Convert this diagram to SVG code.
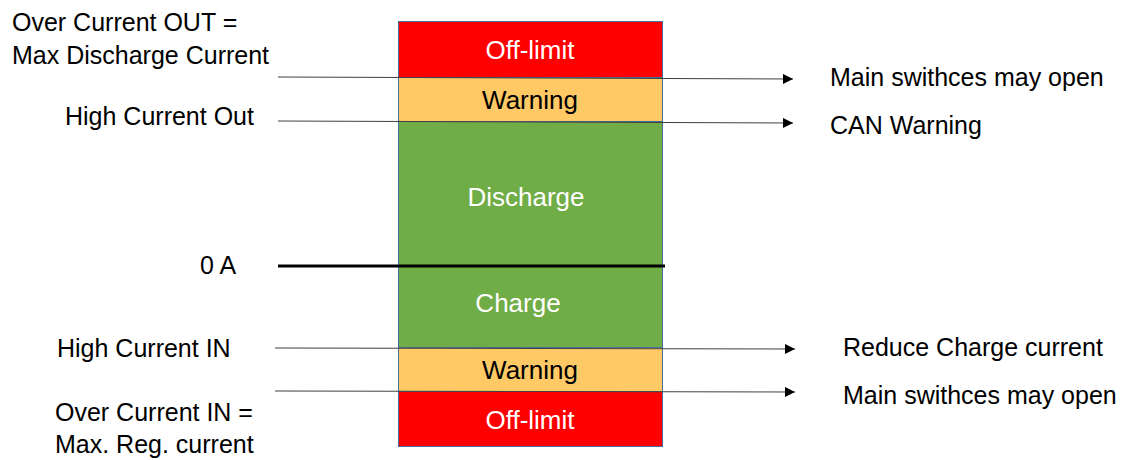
<svg xmlns="http://www.w3.org/2000/svg" width="1133" height="460" viewBox="0 0 1133 460">
  <defs>
    <marker id="arrow" viewBox="0 0 10 10" refX="10" refY="5" markerWidth="10" markerHeight="10" markerUnits="userSpaceOnUse" orient="auto">
      <path d="M0,0 L10,5 L0,10 z" fill="#000"/>
    </marker>
    <style>
      text { font-family: "Liberation Sans", Arial, sans-serif; font-size: 25px; fill: #000; }
      .band { stroke: #41719C; stroke-width: 1; }
      .red { fill: #FF0000; }
      .amber { fill: #FFC966; }
      .green { fill: #70AD47; }
      .light { fill: #fff; }
      .mid { text-anchor: middle; font-size: 26px; }
      .lvl { stroke: #404040; stroke-width: 1; fill: none; }
    </style>
  </defs>
  <rect width="1133" height="460" fill="#fff"/>

  <!-- current bands -->
  <g id="offlimit-top">
    <rect class="band red" x="398.5" y="21.5" width="264" height="56"/>
    <text class="mid light" x="530" y="59">Off-limit</text>
  </g>
  <g id="warning-top">
    <rect class="band amber" x="398.5" y="77.5" width="264" height="44"/>
    <text class="mid" x="530" y="109">Warning</text>
  </g>
  <g id="discharge-charge">
    <rect class="band green" x="398.5" y="121.5" width="264" height="226"/>
    <text class="mid light" x="526" y="206">Discharge</text>
    <text class="mid light" x="518" y="312">Charge</text>
  </g>
  <g id="warning-bottom">
    <rect class="band amber" x="398.5" y="347.5" width="264" height="44"/>
    <text class="mid" x="530" y="379">Warning</text>
  </g>
  <g id="offlimit-bottom">
    <rect class="band red" x="398.5" y="391.5" width="264" height="55"/>
    <text class="mid light" x="530" y="429">Off-limit</text>
  </g>

  <!-- threshold lines -->
  <g id="connectors">
    <line class="lvl" x1="278" y1="77" x2="793" y2="79" marker-end="url(#arrow)"/>
    <line class="lvl" x1="278" y1="121" x2="793" y2="123" marker-end="url(#arrow)"/>
    <line class="lvl" x1="275" y1="348" x2="795" y2="349" marker-end="url(#arrow)"/>
    <line class="lvl" x1="275" y1="391" x2="795" y2="392" marker-end="url(#arrow)"/>
    <line x1="278" y1="266" x2="665" y2="266" stroke="#000" stroke-width="3"/>
  </g>

  <!-- threshold names -->
  <g id="labels-left">
    <text x="12" y="31">Over Current OUT =</text>
    <text x="12" y="64">Max Discharge Current</text>
    <text x="65" y="125">High Current Out</text>
    <text x="200" y="274">0 A</text>
    <text x="57" y="357">High Current IN</text>
    <text x="55" y="421">Over Current IN =</text>
    <text x="55" y="453">Max. Reg. current</text>
  </g>

  <!-- resulting actions -->
  <g id="labels-right">
    <text x="830" y="86">Main swithces may open</text>
    <text x="830" y="134">CAN Warning</text>
    <text x="843" y="356">Reduce Charge current</text>
    <text x="843" y="404">Main swithces may open</text>
  </g>
</svg>
